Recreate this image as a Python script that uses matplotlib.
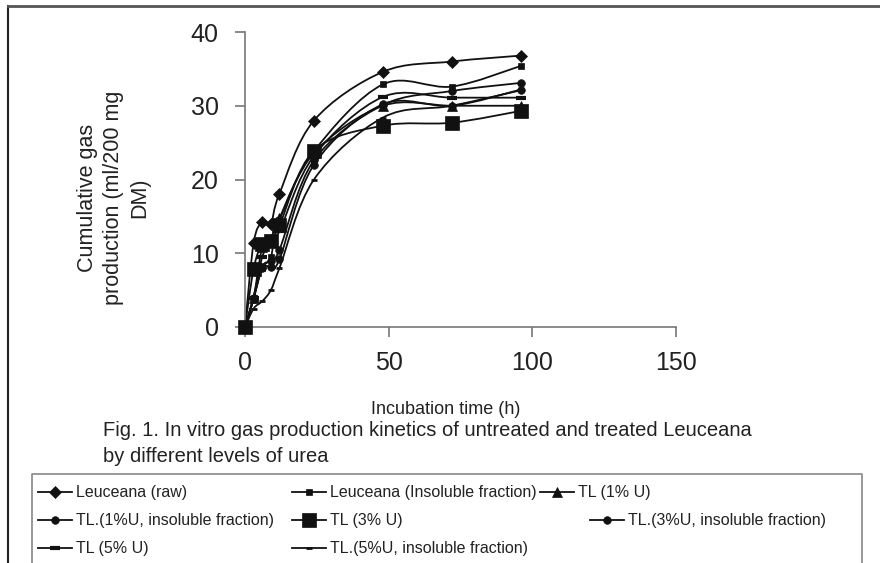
import numpy as np
import matplotlib
matplotlib.use('Agg')
import matplotlib.pyplot as plt
from matplotlib.path import Path
from matplotlib.patches import PathPatch
from matplotlib.lines import Line2D

plt.rcParams['font.family'] = ['Liberation Sans', 'DejaVu Sans']

# incubation times (h)
hours = [0, 3, 6, 9, 12, 24, 48, 72, 96]

leu_raw = [0, 11.4, 14.2, 14.0, 18.1, 28.0, 34.6, 36.0, 36.8]
leu_insol = [0, 4.0, 8.0, 9.5, 14.5, 23.8, 32.9, 32.6, 35.4]
tl1 = [0, 4.0, 10.8, 12.0, 14.8, 23.6, 30.0, 30.0, 30.0]
tl1_insol = [0, 3.8, 8.0, 8.2, 9.2, 22.0, 30.2, 30.0, 32.2]
tl3 = [0, 7.9, 11.3, 11.7, 13.8, 23.9, 27.3, 27.7, 29.3]
tl3_insol = [0, 4.0, 8.2, 9.0, 10.5, 22.6, 30.1, 32.0, 33.1]
tl5 = [0, 4.0, 9.5, 11.5, 13.0, 23.2, 31.2, 31.1, 31.1]
tl5_insol = [0, 2.5, 3.5, 5.0, 8.0, 20.0, 28.4, 30.0, 32.1]

names = ["Leuceana (raw)", "Leuceana (Insoluble fraction)", "TL (1% U)",
         "TL.(1%U, insoluble fraction)", "TL (3% U)", "TL.(3%U, insoluble fraction)",
         "TL (5% U)", "TL.(5%U, insoluble fraction)"]
series = [leu_raw, leu_insol, tl1, tl1_insol, tl3, tl3_insol, tl5, tl5_insol]
# marker, size, edge width
styles = [('D', 6.0, 0.5), ('s', 5.0, 0.5), ('^', 6.5, 0.5), ('o', 5.5, 0.5),
          ('s', 10.0, 0.5), ('o', 5.5, 0.5), ('_', 7.0, 3.0), ('_', 4.0, 2.0)]

xticks = [0, 50, 100, 150]
yticks = [0, 10, 20, 30, 40]


def smooth_path(x, y):
    # catmull-rom style bezier through the points, like excel smoothed lines
    pts = np.column_stack([x, y]).astype(float)
    n = len(pts)
    verts = [pts[0]]
    codes = [Path.MOVETO]
    for i in range(n - 1):
        p0 = pts[i - 1] if i > 0 else pts[i]
        p1 = pts[i]
        p2 = pts[i + 1]
        p3 = pts[i + 2] if i + 2 < n else pts[i + 1]
        c1 = p1 + (p2 - p0) / 6.0
        c2 = p2 - (p3 - p1) / 6.0
        verts += [c1, c2, p2]
        codes += [Path.CURVE4] * 3
    return Path(verts, codes)


fig = plt.figure(figsize=(8.8, 5.63), dpi=100)
W, H = 880.0, 563.0

ax = fig.add_axes([245 / W, 1 - 327 / H, 431 / W, 295 / H])
ax.set_xlim(0, 150)
ax.set_ylim(0, 40)

for vals, (mk, ms, mew) in zip(series, styles):
    ax.add_patch(PathPatch(smooth_path(hours, vals), fill=False, edgecolor='#111111',
                           lw=1.3, zorder=2, clip_on=False))
    ax.plot(hours, vals, linestyle='none', marker=mk, markersize=ms, color='#111111',
            markeredgewidth=mew, zorder=3, clip_on=False)

for s in ['top', 'right']:
    ax.spines[s].set_visible(False)
for s in ['left', 'bottom']:
    ax.spines[s].set_color('#777777')
    ax.spines[s].set_linewidth(1.2)
ax.set_xticks(xticks)
ax.set_yticks(yticks)
ax.tick_params(direction='out', length=7, width=1.2, color='#777777',
               labelsize=18, pad=12, labelcolor='#222222')
ax.tick_params(axis='x', pad=10)

ax.set_ylabel("Cumulative gas\nproduction (ml/200 mg\nDM)", fontsize=15.5,
              color='#222222', linespacing=1.3)
ax.yaxis.set_label_coords((150 - 245) / 431, (327 - 198) / 295)
ax.set_xlabel("Incubation time (h)", fontsize=13, color='#222222')
ax.xaxis.set_label_coords((446 - 245) / 431, (327 - 401) / 295)

# caption
fig.text(103 / W, 1 - 431 / H,
         "Fig. 1. In vitro gas production kinetics of untreated and treated Leuceana",
         fontsize=14.5, color='#222222', va='center')
fig.text(103 / W, 1 - 457 / H, "by different levels of urea",
         fontsize=14.5, color='#222222', va='center')

# outer frame and legend box
fig.add_artist(Line2D([8 / W, 8 / W], [0, 1 - 5.5 / H], transform=fig.transFigure,
                      color='#222222', lw=1.5))
fig.add_artist(Line2D([8 / W, 1], [1 - 5.5 / H, 1 - 5.5 / H], transform=fig.transFigure,
                      color='#555555', lw=2))
fig.add_artist(Line2D([32 / W, 32 / W, 862 / W, 862 / W],
                      [0, 1 - 474 / H, 1 - 474 / H, 0], transform=fig.transFigure,
                      color='#888888', lw=1.2))

# legend entries: (line start x, row y)
leg_pos = [(38, 492), (292, 492), (540, 492),
           (38, 520), (292, 520), (590, 520),
           (38, 548), (292, 548)]
for name, (mk, ms, mew), (lx, ly) in zip(names, styles, leg_pos):
    yy = 1 - ly / H
    fig.add_artist(Line2D([lx / W, (lx + 34) / W], [yy, yy], transform=fig.transFigure,
                          color='#111111', lw=1.3))
    fig.add_artist(Line2D([(lx + 17) / W], [yy], transform=fig.transFigure,
                          marker=mk, markersize=ms, markeredgewidth=mew,
                          color='#111111', linestyle='none'))
    fig.text((lx + 38) / W, yy, name, fontsize=11.5, color='#222222', va='center')

fig.savefig("out.png", dpi=100)
